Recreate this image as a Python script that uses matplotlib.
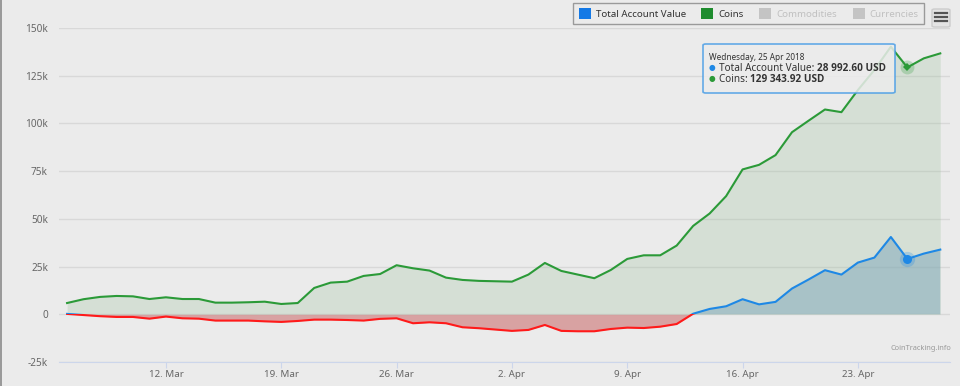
import numpy as np
import pandas as pd
import matplotlib
matplotlib.use('Agg')
import matplotlib.pyplot as plt
import matplotlib.dates as mdates
import matplotlib.transforms as mtransforms
from matplotlib.patches import Patch, Rectangle, FancyBboxPatch
from matplotlib.lines import Line2D

# daily closing values (end of day), thousands of USD
dates = pd.date_range('2018-03-05 23:59', periods=54, freq='D')
coins = [5.9, 7.9, 9.1, 9.6, 9.4, 8.0, 8.9, 8.0, 8.0, 6.1,
         6.1, 6.3, 6.6, 5.4, 5.9, 13.8, 16.6, 17.1, 20.1, 21.1,
         25.7, 24.1, 22.9, 19.2, 18.0, 17.5, 17.3, 17.1, 20.8, 26.9,
         22.7, 20.8, 18.9, 23.2, 29.0, 30.9, 30.9, 36.0, 46.3, 52.8,
         61.9, 75.9, 78.3, 83.4, 95.4, 101.4, 107.3, 105.9, 117.5, 128.0,
         140.2, 129.34392, 134.1, 136.7]
total = [0.2, -0.4, -1.0, -1.4, -1.4, -2.3, -1.2, -2.1, -2.3, -3.3,
         -3.3, -3.3, -3.7, -4.0, -3.5, -2.8, -2.8, -3.0, -3.3, -2.4,
         -2.1, -4.7, -4.2, -4.7, -6.8, -7.3, -8.0, -8.7, -8.2, -5.6,
         -8.7, -8.9, -8.9, -7.7, -7.0, -7.2, -6.5, -5.1, 0.3, 2.8,
         4.2, 7.9, 5.2, 6.5, 13.5, 18.2, 23.1, 20.8, 27.1, 29.7,
         40.5, 28.9926, 31.8, 33.9]
hover_idx = 51
y_ticks = [-25, 0, 25, 50, 75, 100, 125, 150]
x_ticks = pd.date_range('2018-03-12', periods=7, freq='7D')
legend_names = ['Total Account Value', 'Coins', 'Commodities', 'Currencies']

BG = '#ebebeb'
BLUE = '#1e88e5'
GREEN = '#2b9a38'
RED = '#ff1a1a'
W, H = 960, 386

plt.rcParams['font.family'] = ['Noto Sans', 'DejaVu Sans']

x = mdates.date2num(dates.to_pydatetime())
cv = np.array(coins) * 1000
tv = np.array(total) * 1000


def fx(px):
    return px / W


def fy(py):
    return 1 - py / H


fig = plt.figure(figsize=(W / 100, H / 100), dpi=100, facecolor=BG)
ax = fig.add_axes([fx(59), fy(362), fx(950 - 59), (362 - 28) / H])
ax.set_facecolor(BG)

# areas
ax.fill_between(x, 0, cv, color=(151/255, 191/255, 151/255), alpha=0.25, lw=0, zorder=2)
ax.fill_between(x, 0, tv, where=tv >= 0, interpolate=True,
                color=(124/255, 166/255, 186/255), alpha=0.5, lw=0, zorder=3)
ax.fill_between(x, 0, tv, where=tv <= 0, interpolate=True,
                color=(199/255, 91/255, 91/255), alpha=0.5, lw=0, zorder=3)

# lines (total value is red below zero)
ax.plot(x, cv, color=GREEN, lw=1.5, zorder=5)
trans = mtransforms.blended_transform_factory(ax.transAxes, ax.transData)
pos_clip = Rectangle((0, 0), 1, 1e6, transform=trans)
neg_clip = Rectangle((0, -1e6), 1, 1e6, transform=trans)
pos_line, = ax.plot(x, tv, color=BLUE, lw=1.5, zorder=5)
pos_line.set_clip_path(pos_clip)
neg_line, = ax.plot(x, tv, color=RED, lw=1.5, zorder=5)
neg_line.set_clip_path(neg_clip)

# hover markers
hx = x[hover_idx]
ax.plot(hx, cv[hover_idx], 'o', ms=10, color=GREEN, alpha=0.25, mew=0, zorder=6)
ax.plot(hx, cv[hover_idx], 'D', ms=4.5, color=GREEN, mew=0, zorder=7)
ax.plot(hx, tv[hover_idx], 'o', ms=11, color=BLUE, alpha=0.25, mew=0, zorder=6)
ax.plot(hx, tv[hover_idx], 'o', ms=6.5, color=BLUE, mew=0, zorder=7)

# axes
ax.set_xlim(x[0] - 0.49, x[-1] + 0.59)
ax.set_ylim(-25000, 150000)
ax.set_yticks([v * 1000 for v in y_ticks])
ax.set_yticklabels(['%dk' % v if v != 0 else '0' for v in y_ticks])
ax.set_xticks(mdates.date2num(x_ticks.to_pydatetime()))
ax.set_xticklabels(['%d. %s' % (d.day, d.strftime('%b')) for d in x_ticks])
ax.grid(axis='y', color='#d8d8d8', lw=1, zorder=1)
ax.set_axisbelow(True)
for s in ['top', 'right', 'left']:
    ax.spines[s].set_visible(False)
ax.spines['bottom'].set_color('#ccd6eb')
ax.tick_params(axis='y', length=0, pad=8, labelsize=7.2, labelcolor='#666666')
ax.tick_params(axis='x', length=4.3, color='#ccd6eb', pad=1.5, labelsize=7, labelcolor='#666666')

# legend
handles = [Patch(facecolor='#1479e6'), Patch(facecolor='#1e8c2e'),
           Patch(facecolor='#c4c4c4'), Patch(facecolor='#c4c4c4')]
leg = fig.legend(handles, legend_names, ncol=4, loc='upper right',
                 bbox_to_anchor=(fx(924), fy(3)), fontsize=7, frameon=True,
                 fancybox=False, edgecolor='#9a9a9a', facecolor=BG, framealpha=1,
                 handlelength=1.25, handleheight=1.25, handletextpad=0.5,
                 columnspacing=1.6, borderpad=0.55, borderaxespad=0)
leg.get_frame().set_linewidth(1)
for t, c in zip(leg.get_texts(), ['#333333', '#333333', '#c0c0c0', '#c0c0c0']):
    t.set_color(c)

# menu button
fig.add_artist(FancyBboxPatch((fx(932), fy(27)), fx(18), 18 / H,
                              boxstyle='round,pad=0,rounding_size=0.003',
                              transform=fig.transFigure, facecolor='#e4e4e4',
                              edgecolor='#cccccc', lw=1))
for py in [13, 17, 21]:
    fig.add_artist(Line2D([fx(935), fx(947)], [fy(py), fy(py)],
                          transform=fig.transFigure, color='#555555', lw=1.6))

# tooltip
fig.add_artist(FancyBboxPatch((fx(703), fy(93)), fx(192), 49 / H,
                              boxstyle='round,pad=0,rounding_size=0.003',
                              transform=fig.transFigure, facecolor='#ececec',
                              alpha=0.85, edgecolor='#4a9ee6', lw=1.2, zorder=10))
hd = dates[hover_idx]
fig.text(fx(709), fy(57), '%s, %d %s' % (hd.strftime('%A'), hd.day, hd.strftime('%b %Y')),
         fontsize=5.9, color='#333333', va='center', zorder=11)
rows = [('Total Account Value: ', total[hover_idx] * 1000, BLUE, 68.5),
        ('Coins: ', coins[hover_idx] * 1000, GREEN, 80)]
for label, val, col, py in rows:
    fig.text(fx(709), fy(py), '\u25cf', fontsize=5.5, color=col, va='center', zorder=11)
    t1 = fig.text(fx(719), fy(py), label, fontsize=7.2, color='#333333', va='center', zorder=11)
    num = '{:,.2f} USD'.format(val).replace(',', ' ')
    fig.add_artist(plt.Annotation(num, xy=(1, 0), xycoords=t1, va='bottom',
                                  fontsize=7.2, fontweight='bold', color='#333333',
                                  family=['Open Sans', 'Lato', 'DejaVu Sans'], zorder=11))

# credits
fig.text(fx(951), fy(349), 'CoinTracking.info', fontsize=5.3, color='#999999',
         ha='right', va='center')

# left border
fig.add_artist(Rectangle((0, 0), fx(2), 1, transform=fig.transFigure,
                         facecolor='#9a9a9a', lw=0))

fig.savefig('out.png', dpi=100, facecolor=BG)
